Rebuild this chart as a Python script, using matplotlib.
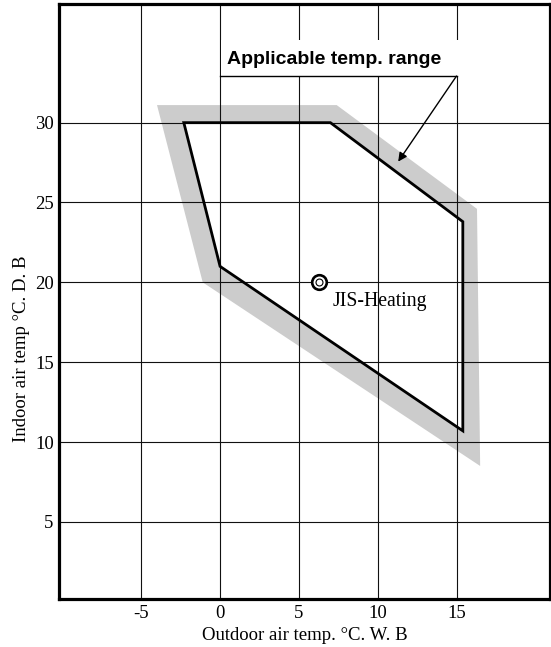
import matplotlib
matplotlib.use("Agg")
import matplotlib.pyplot as plt
from matplotlib.patches import Rectangle

plt.rcParams['font.family'] = ['Liberation Serif', 'DejaVu Serif']
plt.rcParams['axes.unicode_minus'] = False

# Applicable range outline (outdoor WB, indoor DB)
range_x = [-2.3, 7.0, 15.4, 15.4, 0.0]
range_y = [30.0, 30.0, 23.8, 10.7, 21.0]

# Grey tolerance band, outer edge
band_x = [-4.0, 7.4, 16.3, 16.5, -1.1]
band_y = [31.1, 31.1, 24.6, 8.5, 20.0]

# JIS heating rating point
jis_x = 6.3
jis_y = 20.0

x_ticks = [-5, 0, 5, 10, 15]
y_ticks = [5, 10, 15, 20, 25, 30]

# callout
callout_text = 'Applicable temp. range'
callout_line_x = [0.0, 15.0]
callout_line_y = 32.92
arrow_tip = (11.3, 27.56)

fig = plt.figure(figsize=(5.51, 6.47), dpi=100)
ax = fig.add_axes([0.1076, 0.0742, 0.8897, 0.9196])

ax.fill(band_x, band_y, color='#cccccc', lw=0, zorder=1)
ax.fill(range_x, range_y, color='white', lw=0, zorder=1.1)
ax.fill(range_x, range_y, facecolor='none', edgecolor='black', lw=2.0,
        joinstyle='miter', zorder=3)

ax.set_xlim(-10.2, 20.9)
ax.set_ylim(0.17, 37.43)
ax.set_xticks(x_ticks)
ax.set_yticks(y_ticks)
ax.set_axisbelow(False)
ax.grid(True, color='#111111', lw=0.8)
ax.tick_params(length=0, labelsize=13.5, pad=4)
for s in ax.spines.values():
    s.set_linewidth(2.3)
    s.set_zorder(6)

# white box behind the callout text hides the grid
ax.add_patch(Rectangle((0.07, callout_line_y), 15.4, 2.27, facecolor='white',
                       edgecolor='none', zorder=4))
ax.plot(callout_line_x, [callout_line_y, callout_line_y], color='black', lw=1.0, zorder=5)
ax.text(0.45, 33.93, callout_text, family=['Liberation Sans', 'DejaVu Sans'],
        fontweight='bold', fontsize=14.0, ha='left', va='center', zorder=5)
ax.annotate('', xy=arrow_tip, xytext=(callout_line_x[1], callout_line_y),
            arrowprops=dict(arrowstyle='-|>', color='black', lw=1.0,
                            mutation_scale=13, shrinkA=0, shrinkB=0), zorder=5)

ax.plot(jis_x, jis_y, 'o', ms=10.5, mfc='white', mec='black', mew=1.9, zorder=5)
ax.plot(jis_x, jis_y, 'o', ms=5, mfc='white', mec='black', mew=0.8, zorder=5)
ax.text(jis_x + 0.82, 18.52, 'JIS-Heating', fontsize=14.2, ha='left', va='baseline', zorder=5)

ax.set_xlabel('Outdoor air temp. °C. W. B', fontsize=13.5, labelpad=4)
fig.text(21.5 / 551, 1 - 349 / 647, 'Indoor air temp °C. D. B', rotation=90,
         fontsize=13.5, ha='center', va='center')

fig.savefig('out.png', dpi=100)
